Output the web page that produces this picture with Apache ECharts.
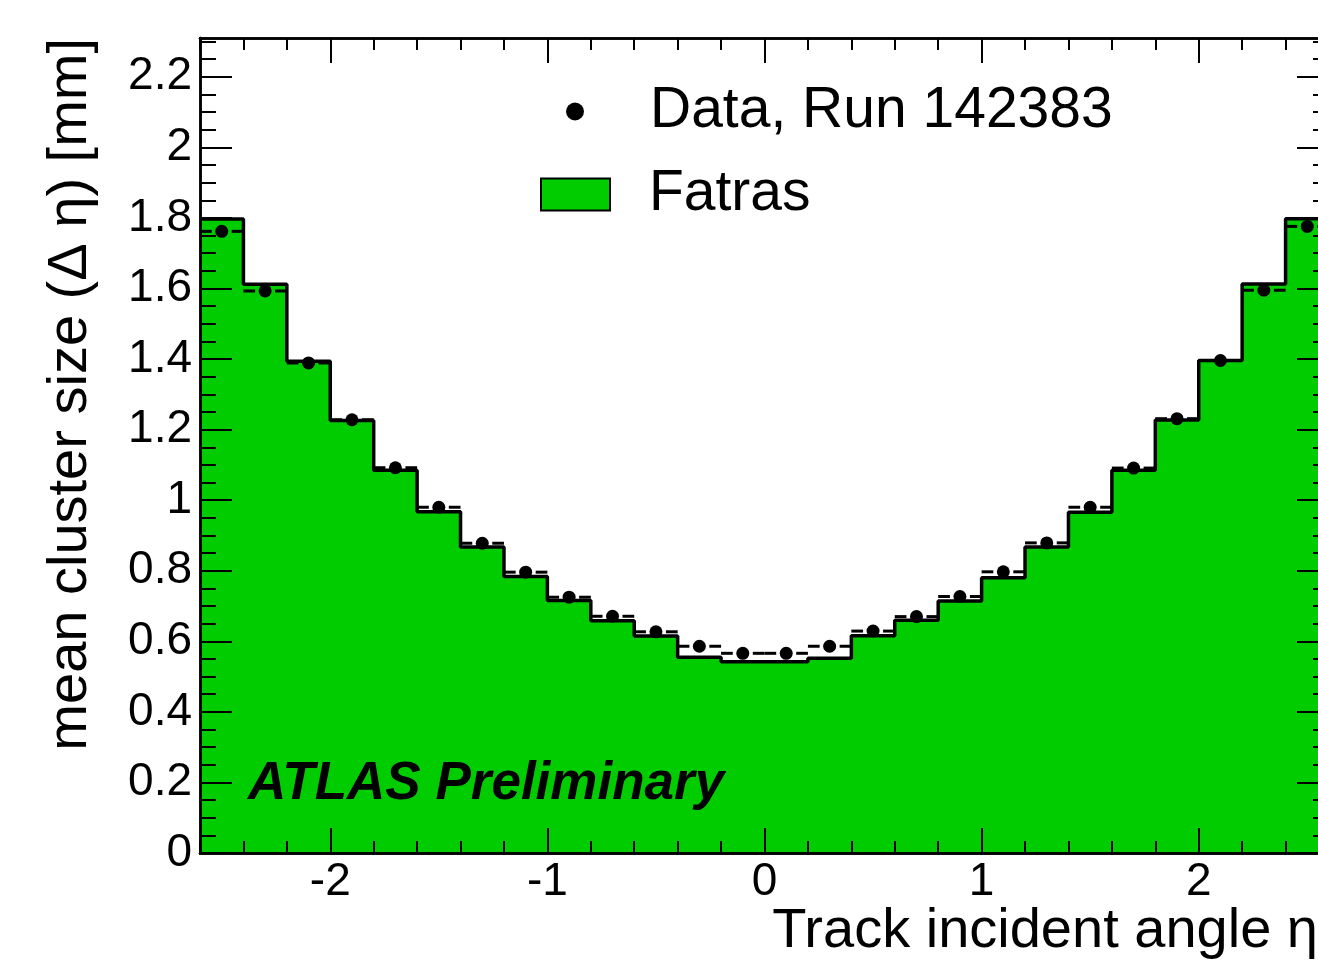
<!DOCTYPE html>
<html><head><meta charset="utf-8">
<script src="https://cdn.jsdelivr.net/npm/echarts@6/dist/echarts.min.js"></script>
<style>html,body{margin:0;padding:0;background:#fff;overflow:hidden}#c{width:1318px;height:964px}</style>
</head><body><div id="c"></div>
<script>
// ---- data ----
const binCenters = [-2.5,-2.3,-2.1,-1.9,-1.7,-1.5,-1.3,-1.1,-0.9,-0.7,-0.5,-0.3,-0.1,
                    0.1,0.3,0.5,0.7,0.9,1.1,1.3,1.5,1.7,1.9,2.1,2.3,2.5];
const binWidth = 0.2;
const fatrasValues = [1.797,1.612,1.394,1.226,1.085,0.967,0.867,0.784,0.716,0.658,0.615,0.555,0.542,
                      0.542,0.552,0.616,0.660,0.714,0.780,0.867,0.966,1.085,1.227,1.396,1.613,1.798];
const dataValues = [1.762,1.593,1.389,1.228,1.092,0.980,0.878,0.796,0.725,0.671,0.627,0.586,0.566,
                    0.566,0.586,0.629,0.670,0.727,0.797,0.879,0.980,1.091,1.231,1.396,1.595,1.776];
const xMajorTicks = [-2,-1,0,1,2];
const xTickLabels = ['-2','-1','0','1','2'];
const yMajorTicks = [0,0.2,0.4,0.6,0.8,1,1.2,1.4,1.6,1.8,2,2.2];
const yTickLabels = ['0','0.2','0.4','0.6','0.8','1','1.2','1.4','1.6','1.8','2','2.2'];
const dataName = 'Data, Run 142383';
const mcName = 'Fatras';
const xTitle = 'Track incident angle \u03B7';
const yTitle = 'mean cluster size (\u0394 \u03B7) [mm]';
const atlasLabel = 'ATLAS Preliminary';

// ---- axis extents / minor ticks (layout) ----
const xMin = -2.6, xMax = 2.6, yMin = 0, yMax = 2.31;
const xMinorTicks = []; for (let k = -13; k <= 13; k++) xMinorTicks.push(+(k*0.2).toFixed(2));
const yMinorTicks = []; for (let k = 0; k <= 46; k++) yMinorTicks.push(+(k*0.05).toFixed(2));

const FONT = '"Liberation Sans", Arial, Helvetica, sans-serif';
const stepPoints = binCenters.map((c,i)=>[c - binWidth/2, fatrasValues[i]]);
stepPoints.push([binCenters[binCenters.length-1] + binWidth/2, fatrasValues[fatrasValues.length-1]]);

function xAx(pos, major, showLabel) {
  return {
    type:'value', position:pos, min:xMin, max:xMax, z:10,
    axisLine:{show:true, onZero:false, lineStyle:{color:'#000', width:2.5}},
    axisTick:{show:true, inside:true, length: major?25:12, customValues: major?xMajorTicks:xMinorTicks,
              lineStyle:{color:'#000', width:2}},
    axisLabel:{show:showLabel, customValues:xMajorTicks, margin:6, fontSize:46, color:'#000', fontFamily:FONT,
               formatter:(v)=>{const i=xMajorTicks.indexOf(v); return i>=0?xTickLabels[i]:'';}},
    splitLine:{show:false}
  };
}
function yAx(pos, major, showLabel) {
  return {
    type:'value', position:pos, min:yMin, max:yMax, z:10,
    axisLine:{show:true, onZero:false, lineStyle:{color:'#000', width:2.5}},
    axisTick:{show:true, inside:true, length: major?32:16, customValues: major?yMajorTicks:yMinorTicks,
              lineStyle:{color:'#000', width:2}},
    axisLabel:{show:showLabel, customValues:yMajorTicks, margin:8, fontSize:46, color:'#000', fontFamily:FONT,
               formatter:(v)=>{let i=-1; yMajorTicks.forEach((t,j)=>{if(Math.abs(t-v)<1e-6)i=j;}); return i>=0?yTickLabels[i]:'';}},
    splitLine:{show:false}
  };
}

const chart = echarts.init(document.getElementById('c'), null, {renderer:'canvas'});
chart.setOption({
  animation:false,
  backgroundColor:'#fff',
  grid:{left:200, top:38, width:1129, height:815, containLabel:false, outerBoundsMode:'none'},
  xAxis:[ xAx('bottom', true, true), xAx('bottom', false, false), xAx('top', true, false), xAx('top', false, false) ],
  yAxis:[ yAx('left', true, true), yAx('left', false, false), yAx('right', true, false), yAx('right', false, false) ],
  legend:[
    {left:566, top:83, padding:0, orient:'vertical', selectedMode:false, itemWidth:18, itemHeight:18,
     data:[{name:dataName, icon:'circle', itemStyle:{color:'#000', opacity:1}}],
     textStyle:{fontSize:57, color:'#000', fontFamily:FONT, lineHeight:57, padding:[0,0,0,61]}},
    {left:540, top:166, padding:0, orient:'vertical', selectedMode:false, itemWidth:69, itemHeight:32,
     data:[{name:mcName, icon:'rect', itemStyle:{color:'#00cc00', borderColor:'#000', borderWidth:2}}],
     textStyle:{fontSize:57, color:'#000', fontFamily:FONT, lineHeight:57, padding:[0,0,0,34]}}
  ],
  graphic:[
    {type:'text', left:248, top:758, z:20,
     style:{text:atlasLabel, font:'italic bold 53px '+FONT, fill:'#000'}},
    {type:'text', x:71, y:38, rotation:Math.PI/2, z:20,
     style:{text:yTitle, font:'56px '+FONT, fill:'#000', align:'right', verticalAlign:'middle'}},
    {type:'text', x:1318, y:904, z:20,
     style:{text:xTitle, font:'56px '+FONT, fill:'#000', align:'right', verticalAlign:'top'}}
  ],
  series:[
    {type:'line', name:mcName, step:'end', data:stepPoints, symbol:'none', xAxisIndex:0, yAxisIndex:0,
     lineStyle:{color:'#000', width:3.5}, areaStyle:{color:'#00cc00', opacity:1}, itemStyle:{color:'#00cc00'}, z:2},
    {type:'custom', name:'errors', xAxisIndex:0, yAxisIndex:0, z:3,
     data: binCenters.map((c,i)=>[c, dataValues[i]]),
     renderItem:function(params, api){
       const x = api.value(0), y = api.value(1);
       const c = api.coord([x,y]), l = api.coord([x-binWidth/2,y]), r = api.coord([x+binWidth/2,y]);
       const gap = 10;
       return {type:'group', children:[
         {type:'line', shape:{x1:l[0], y1:c[1], x2:c[0]-gap, y2:c[1]}, style:{stroke:'#000', lineWidth:3}},
         {type:'line', shape:{x1:c[0]+gap, y1:c[1], x2:r[0], y2:c[1]}, style:{stroke:'#000', lineWidth:3}}
       ]};
     }},
    {type:'scatter', name:dataName, xAxisIndex:0, yAxisIndex:0, z:4,
     data: binCenters.map((c,i)=>[c, dataValues[i]]), symbol:'circle', symbolSize:13, itemStyle:{color:'#000', opacity:1}}
  ]
});
</script></body></html>
